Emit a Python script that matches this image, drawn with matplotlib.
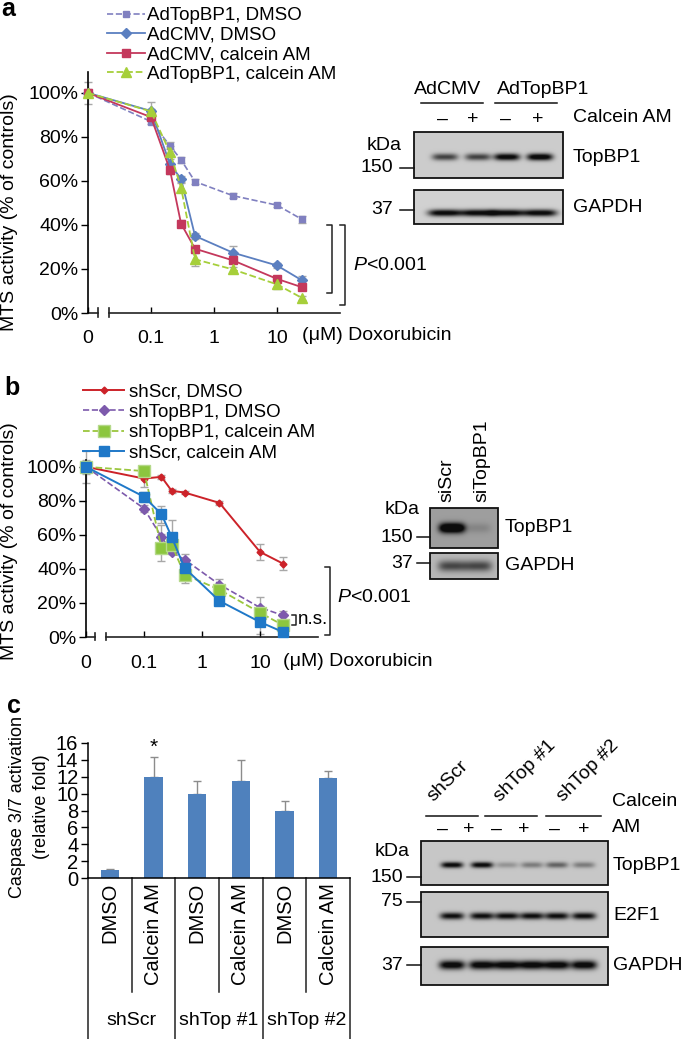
import numpy as np
import matplotlib
matplotlib.use('Agg')
import matplotlib.pyplot as plt
from matplotlib.patches import Rectangle
from matplotlib.transforms import blended_transform_factory

plt.rcParams['font.family'] = ['Liberation Sans', 'DejaVu Sans']
plt.rcParams['font.size'] = 13.5
plt.rcParams['mathtext.fontset'] = 'custom'
plt.rcParams['mathtext.rm'] = 'Liberation Sans'
plt.rcParams['mathtext.it'] = 'Liberation Sans:italic'

# ---- data -------------------------------------------------------------
dose = [0, 0.1, 0.2, 0.3, 0.5, 2, 10, 25]
dose_ticks = [0, 0.1, 1, 10]

# panel a (MTS activity, % of controls)
a_labels = ['AdTopBP1, DMSO', 'AdCMV, DMSO', 'AdCMV, calcein AM', 'AdTopBP1, calcein AM']
a_topbp1_dmso = [100, 87, 76, 69.6, 59.7, 53.3, 49, 42.5]
a_topbp1_dmso_err = [1, 1, 1.5, 1.5, 1, 1, 1, 1.5]
a_cmv_dmso = [100, 91.8, 67.7, 60.9, 35, 27.4, 21.6, 14.8]
a_cmv_dmso_err = [5, 4, 3, 1.5, 1.5, 3, 1, 2]
a_cmv_calcein = [100, 89, 65, 40.6, 29.2, 23.9, 15.5, 11.7]
a_cmv_calcein_err = [2, 1.5, 2, 1.5, 1, 1, 1, 1]
a_topbp1_calcein = [100, 91.6, 73, 57, 24.4, 19.8, 13, 6.8]
a_topbp1_calcein_err = [1, 1, 3, 2, 3, 1, 2, 1]

# panel b
b_labels = ['shScr, DMSO', 'shTopBP1, DMSO', 'shTopBP1, calcein AM', 'shScr, calcein AM']
b_scr_dmso = [100, 93.1, 94.1, 85.9, 84.9, 78.8, 50, 43.1]
b_scr_dmso_err = [9.5, 5, 1, 1, 1, 1, 4.5, 4]
b_top_dmso = [100, 75.5, 58.8, 50, 45.5, 30.8, 17.3, 12.7]
b_top_dmso_err = [3, 2, 7, 1, 3, 3, 6, 2.5]
b_top_calcein = [100, 97.5, 52.4, 54.3, 36.7, 27.8, 14.3, 6.9]
b_top_calcein_err = [2, 3, 8, 3, 5, 3, 4, 2]
b_scr_calcein = [100, 82.4, 72.2, 58.8, 40.6, 21.2, 8.8, 2.9]
b_scr_calcein_err = [4, 3, 5, 10, 4, 2, 7, 1]

# panel c (caspase 3/7 activation)
c_treat = ['DMSO', 'Calcein AM', 'DMSO', 'Calcein AM', 'DMSO', 'Calcein AM']
c_groups = ['shScr', 'shTop #1', 'shTop #2']
c_fold = [1.0, 12.0, 9.9, 11.45, 7.9, 11.8]
c_fold_err = [0.1, 2.3, 1.6, 2.5, 1.2, 0.9]

# western blot band strengths (0 = none, 1 = black)
wa_topbp1 = [0.55, 0.55, 0.85, 0.9]
wa_gapdh = [0.85, 0.85, 0.85, 0.85]
wb_topbp1 = [0.95, 0.1]
wb_gapdh = [0.45, 0.45]
wc_topbp1 = [0.8, 0.8, 0.2, 0.3, 0.4, 0.3]
wc_e2f1 = [0.75, 0.75, 0.75, 0.75, 0.75, 0.75]
wc_gapdh = [0.85, 0.85, 0.85, 0.85, 0.85, 0.85]

# ---- figure -----------------------------------------------------------
W, H = 685, 1039
fig = plt.figure(figsize=(W / 100, H / 100), dpi=100)


def px_ax(l, t, r, b):
    return fig.add_axes([l / W, 1 - b / H, (r - l) / W, (b - t) / H])


ZERO = 0.01  # where dose 0 sits on the log axis
xpos = [d if d > 0 else ZERO for d in dose]


def dose_panel(ax, series, ytop, brk, pad):
    for vals, errs, st in series:
        ax.errorbar(xpos, vals, yerr=errs, fmt='none', ecolor='#a8a8a8',
                    elinewidth=1, capsize=3, capthick=1, zorder=1, clip_on=False)
    for vals, errs, st in series:
        ax.plot(xpos, vals, clip_on=False, zorder=3, **st)
    ax.set_xscale('log')
    ax.set_xlim(ZERO, 100)
    ax.set_ylim(0, ytop)
    ax.set_yticks([0, 20, 40, 60, 80, 100])
    ax.set_yticklabels([f'{v}%' for v in [0, 20, 40, 60, 80, 100]])
    ax.set_xticks([d if d > 0 else ZERO for d in dose_ticks])
    ax.set_xticklabels([str(d) for d in dose_ticks])
    ax.xaxis.set_minor_locator(matplotlib.ticker.NullLocator())
    ax.tick_params(axis='x', direction='in', length=4, width=1, pad=pad, labelsize=14)
    ax.tick_params(axis='y', direction='out', length=5, width=1, pad=2, labelsize=14)
    for s in ['top', 'right', 'bottom']:
        ax.spines[s].set_visible(False)
    ax.spines['left'].set_linewidth(1.2)
    tr = blended_transform_factory(ax.transData, ax.transAxes)
    # broken x axis
    ax.plot([ZERO, brk[0]], [0, 0], color='#222', lw=1.2, transform=tr, clip_on=False)
    ax.plot([brk[1], 100], [0, 0], color='#222', lw=1.2, transform=tr, clip_on=False)
    for xb in brk:
        ax.plot([xb, xb], [-0.018, 0.022], color='#222', lw=1.2, transform=tr, clip_on=False)


def bracket(ax, x0, x1, y0, y1):
    tr = blended_transform_factory(ax.transAxes, ax.transData)
    ax.plot([x0, x1, x1, x0], [y0, y0, y1, y1], color='#222', lw=1.1,
            transform=tr, clip_on=False)


# panel a
ax_a = px_ax(88, 72, 340, 313)
a_series = [
    (a_topbp1_dmso, a_topbp1_dmso_err,
     dict(color='#8080c0', ls='--', lw=1.2, marker='s', ms=4.5, label=a_labels[0])),
    (a_cmv_dmso, a_cmv_dmso_err,
     dict(color='#5b7fc0', ls='-', lw=1.3, marker='D', ms=5, label=a_labels[1])),
    (a_cmv_calcein, a_cmv_calcein_err,
     dict(color='#c4385c', ls='-', lw=1.3, marker='s', ms=6, label=a_labels[2])),
    (a_topbp1_calcein, a_topbp1_calcein_err,
     dict(color='#a6cf3a', ls='--', lw=1.3, marker='^', ms=6.5, label=a_labels[3])),
]
dose_panel(ax_a, a_series, 109.5, (0.0142, 0.0213), 12)
ax_a.legend(loc='upper left', bbox_to_anchor=(107 / W, 1 - 7 / H), bbox_transform=fig.transFigure,
            frameon=False, borderpad=0, borderaxespad=0, handlelength=2.0,
            handletextpad=0.15, labelspacing=0.13)
bracket(ax_a, 0.948, 0.968, 40, 9)
bracket(ax_a, 1.0, 1.02, 40, 3.6)
ax_a.text(1.05, 21.8, r'$\mathit{P}$<0.001', transform=blended_transform_factory(ax_a.transAxes, ax_a.transData),
          ha='left', va='center', fontsize=14)

# panel b
ax_b = px_ax(86, 460, 318, 637)
b_series = [
    (b_scr_dmso, b_scr_dmso_err,
     dict(color='#cc2229', ls='-', lw=1.4, marker='D', ms=3.5, label=b_labels[0])),
    (b_top_dmso, b_top_dmso_err,
     dict(color='#7d5aac', ls='--', lw=1.2, marker='D', ms=5, label=b_labels[1])),
    (b_top_calcein, b_top_calcein_err,
     dict(color='#9bc63e', ls='--', lw=1.3, marker='s', ms=8, mfc='#8cc63f', mec='#b5d98a',
          label=b_labels[2])),
    (b_scr_calcein, b_scr_calcein_err,
     dict(color='#1f78c8', ls='-', lw=1.4, marker='s', ms=6.5, label=b_labels[3])),
]
dose_panel(ax_b, b_series, 104, (0.0143, 0.022), 13)
ax_b.legend(loc='upper left', bbox_to_anchor=(83 / W, 1 - 383 / H), bbox_transform=fig.transFigure,
            frameon=False, borderpad=0, borderaxespad=0, handlelength=2.2,
            handletextpad=0.25, labelspacing=0.18)
bracket(ax_b, 1.03, 1.05, 41, 1.2)
bracket(ax_b, 0.89, 0.905, 13, 7)
trb = blended_transform_factory(ax_b.transAxes, ax_b.transData)
ax_b.text(1.08, 23.5, r'$\mathit{P}$<0.001', transform=trb, ha='left', va='center', fontsize=14)
ax_b.text(0.915, 10, 'n.s.', transform=trb, ha='left', va='center')

# panel c
ax_c = px_ax(88, 743, 350, 878)
xc = np.arange(len(c_fold))
ax_c.bar(xc, c_fold, width=0.42, color='#4f81bd', zorder=2)
ax_c.errorbar(xc, c_fold, yerr=[np.zeros(len(c_fold)), c_fold_err], fmt='none',
              ecolor='#8c8c8c', elinewidth=1, capsize=3, capthick=1, zorder=1)
ax_c.set_xlim(-0.5, 5.5)
ax_c.set_ylim(0, 16)
ax_c.set_yticks(range(0, 17, 2))
ax_c.set_xticks([])
ax_c.tick_params(axis='y', direction='out', length=5, width=1, pad=2, labelsize=14.5)
for s in ['top', 'right']:
    ax_c.spines[s].set_visible(False)
ax_c.spines['left'].set_linewidth(1.1)
ax_c.spines['bottom'].set_linewidth(1.1)
trc = blended_transform_factory(ax_c.transData, ax_c.transAxes)
ax_c.text(1, 14.8, '*', ha='center', va='baseline', fontsize=15)
for i, lab in enumerate(c_treat):
    ax_c.text(xc[i], -0.037, lab, rotation=90, ha='center', va='top', transform=trc, fontsize=14.5)
for k in range(7):
    xs = k - 0.5
    y_end = -1.25 if k % 2 == 0 else -0.845
    ax_c.plot([xs, xs], [0, y_end], color='#222', lw=1.1, transform=trc, clip_on=False)
for g, lab in enumerate(c_groups):
    ax_c.text(2 * g + 0.5, -1.052, lab, ha='center', va='center', transform=trc, fontsize=14)

# ---- overlay for blots and loose text (pixel coordinates) -------------
ov = fig.add_axes([0, 0, 1, 1])
ov.axis('off')


def blot(box, lanes, band_y, levels, sigma, half_w, bg):
    l, t, r, b = box
    xs = np.linspace(l, r, int((r - l) * 3))
    ys = np.linspace(t, b, int((b - t) * 3))
    X, Y = np.meshgrid(xs, ys)
    img = np.full(X.shape, bg)
    for xcen, lev in zip(lanes, levels):
        img -= lev * np.exp(-((X - xcen) / half_w) ** 4) * np.exp(-((Y - band_y) / sigma) ** 2)
    ov.imshow(np.clip(img, 0.05, 1), cmap='gray', vmin=0, vmax=1, extent=[l, r, b, t],
              aspect='auto', interpolation='bilinear', zorder=1)
    ov.add_patch(Rectangle((l, t), r - l, b - t, fill=False, lw=1.3, ec='#111', zorder=2))


def t(x, y, s, **kw):
    kw.setdefault('va', 'center')
    kw.setdefault('fontsize', 14)
    ov.text(x, y, s, **kw)


def hline(x0, x1, y, lw=1.1):
    ov.plot([x0, x1], [y, y], color='#111', lw=lw)


# panel letters and y labels
t(8, 16, 'a', ha='center', va='baseline', fontsize=18, fontweight='bold')
t(12, 395, 'b', ha='center', va='baseline', fontsize=18, fontweight='bold')
t(14, 713, 'c', ha='center', va='baseline', fontsize=18, fontweight='bold')
t(10, 212, 'MTS activity (% of controls)', rotation=90, ha='center')
t(10, 541, 'MTS activity (% of controls)', rotation=90, ha='center')
t(18, 807, 'Caspase 3/7 activation', rotation=90, ha='center', fontsize=13)
t(42, 807, '(relative fold)', rotation=90, ha='center', fontsize=13)
t(302, 335, '(\u03bcM) Doxorubicin', ha='left')
t(283, 662, '(\u03bcM) Doxorubicin', ha='left')

# blot a
lanes_a = [445, 478, 507, 540]
blot((414, 132, 563, 178), lanes_a, 157, wa_topbp1, 3.5, 13, 0.80)
blot((414, 190, 563, 224), lanes_a, 213, wa_gapdh, 3.5, 17, 0.82)
t(448, 90, 'AdCMV', ha='center')
t(543, 90, 'AdTopBP1', ha='center')
hline(421, 483, 103)
hline(495, 557, 103)
for x, s in zip([443, 473, 506, 538], ['\u2013', '+', '\u2013', '+']):
    t(x, 119, s, ha='center')
t(573, 118, 'Calcein AM', ha='left')
t(573, 157, 'TopBP1', ha='left')
t(573, 207, 'GAPDH', ha='left')
t(402, 146, 'kDa', ha='right')
t(393, 168, '150', ha='right')
hline(400, 414, 168)
t(393, 210, '37', ha='right')
hline(400, 414, 210)

# blot b
lanes_b = [452, 478]
blot((430, 508, 498, 548), lanes_b, 528, wb_topbp1, 5, 13, 0.62)
blot((430, 553, 498, 579), lanes_b, 566, wb_gapdh, 5.5, 14, 0.72)
t(447, 502, 'siScr', rotation=90, ha='center', va='bottom')
t(482, 502, 'siTopBP1', rotation=90, ha='center', va='bottom')
t(505, 527, 'TopBP1', ha='left')
t(505, 565, 'GAPDH', ha='left')
t(420, 510, 'kDa', ha='right')
t(413, 537, '150', ha='right')
hline(417, 430, 537)
t(413, 563, '37', ha='right')
hline(417, 430, 563)

# blot c
lanes_c = [452, 482, 507, 532, 557, 584]
blot((421, 841, 608, 885), lanes_c, 865, wc_topbp1, 3, 11, 0.78)
blot((421, 892, 608, 937), lanes_c, 916, wc_e2f1, 3.5, 12, 0.78)
blot((421, 947, 608, 985), lanes_c, 965, wc_gapdh, 4.5, 13, 0.78)
for x, s in zip([436, 503, 566], ['shScr', 'shTop #1', 'shTop #2']):
    ov.text(x, 805, s, rotation=45, rotation_mode='anchor', ha='left', va='bottom', fontsize=14)
hline(426, 478, 816)
hline(485, 537, 816)
hline(546, 601, 816)
for x, s in zip([443, 469, 497, 524, 555, 584], ['\u2013', '+'] * 3):
    t(x, 829, s, ha='center')
t(612, 802, 'Calcein', ha='left')
t(612, 828, 'AM', ha='left')
t(613, 866, 'TopBP1', ha='left')
t(613, 916, 'E2F1', ha='left')
t(613, 965, 'GAPDH', ha='left')
t(410, 852, 'kDa', ha='right')
t(403, 877, '150', ha='right')
hline(407, 421, 877)
t(403, 902, '75', ha='right')
hline(407, 421, 902)
t(403, 965, '37', ha='right')
hline(407, 421, 965)

ov.set_xlim(0, W)
ov.set_ylim(H, 0)

fig.savefig('out.png', dpi=100)
